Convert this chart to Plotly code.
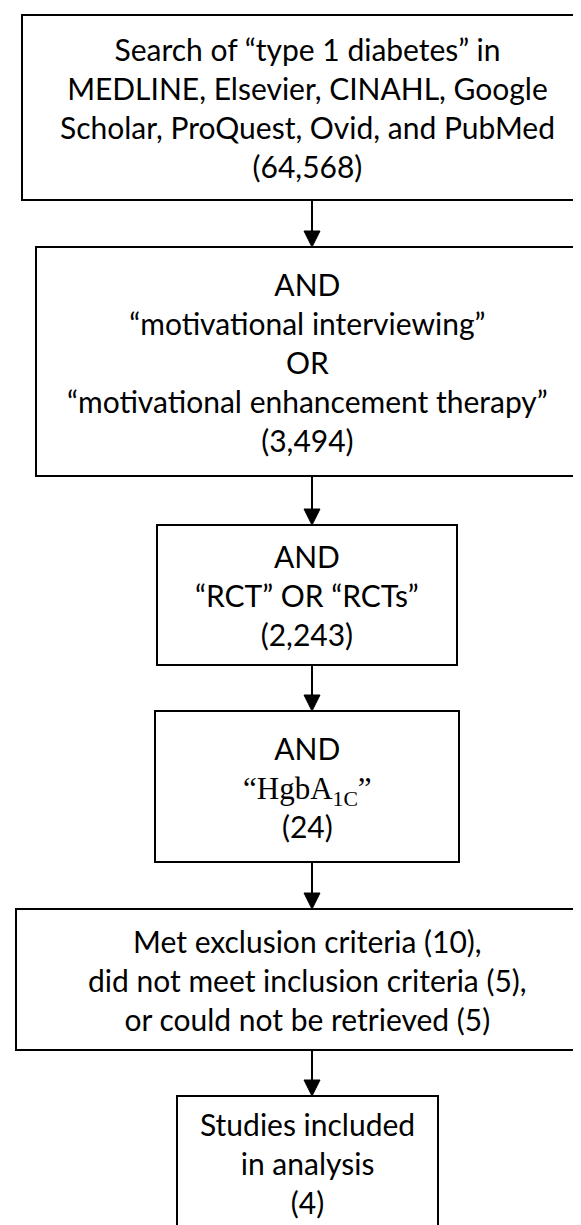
import plotly.graph_objects as go

# ---------------- data ----------------
search_terms = [
    "Search of “type 1 diabetes” in<br>MEDLINE, Elsevier, CINAHL, Google<br>Scholar, ProQuest, Ovid, and PubMed",
    "AND<br>“motivational interviewing”<br>OR<br>“motivational enhancement therapy”",
    "AND<br>“RCT” OR “RCTs”",
    "AND<br><span style=\"font-family:'Liberation Serif', 'Times New Roman', serif;font-size:31px\">“HgbA<sub>1C</sub>”</span>",
]
search_counts = [64568, 3494, 2243, 24]

exclusion_reasons = ["Met exclusion criteria", "did not meet inclusion criteria", "or could not be retrieved"]
exclusion_counts = [10, 5, 5]

final_label = "Studies included<br>in analysis"
final_count = 4

# ---------------- layout (pixel geometry) ----------------
W, H = 581, 1225
boxes = [  # x0, x1, y0, y1
    (14, 594, 7, 192),
    (28, 571, 239, 468),
    (149, 449, 517, 657),
    (147, 451, 703, 854),
    (8, 600, 901, 1042),
    (169, 430, 1088, 1222),
]
arrow_x = 304
text_cx = 299
font_main = dict(family="Lato, 'Open Sans', sans-serif", size=30, color="black")

texts = [f"{t}<br>({c:,})" for t, c in zip(search_terms, search_counts)]
texts.append(",<br>".join(f"{r} ({c})" for r, c in zip(exclusion_reasons, exclusion_counts)))
texts.append(f"{final_label}<br>({final_count})")

fig = go.Figure()
fig.add_trace(go.Scatter(x=[0, W], y=[0, H], mode="markers",
                         marker=dict(opacity=0), hoverinfo="skip", showlegend=False))

shapes = []
annotations = []
for (x0, x1, y0, y1), txt in zip(boxes, texts):
    shapes.append(dict(type="rect", xref="x", yref="y", x0=x0, x1=x1, y0=y0, y1=y1,
                       line=dict(color="black", width=2), fillcolor="white", layer="below"))
    annotations.append(dict(xref="x", yref="y", x=text_cx,
                            y=(y0 + y1) / 2, text=txt, showarrow=False,
                            xanchor="center", yanchor="middle", align="center", font=font_main))

head_w, head_h = 8, 16
for (a, b) in zip(boxes[:-1], boxes[1:]):
    ys, ye = a[3], b[2]
    shapes.append(dict(type="line", xref="x", yref="y", x0=arrow_x, x1=arrow_x,
                       y0=ys, y1=ye - head_h + 2, line=dict(color="black", width=2)))
    shapes.append(dict(type="path", xref="x", yref="y",
                       path=f"M {arrow_x - head_w},{ye - head_h} L {arrow_x + head_w},{ye - head_h} L {arrow_x},{ye} Z",
                       fillcolor="black", line=dict(color="black", width=1)))

fig.update_layout(
    width=W, height=H, margin=dict(l=0, r=0, t=0, b=0),
    paper_bgcolor="white", plot_bgcolor="white",
    xaxis=dict(range=[0, W], visible=False, fixedrange=True),
    yaxis=dict(range=[H, 0], visible=False, fixedrange=True),
    shapes=shapes, annotations=annotations, showlegend=False,
)

fig.write_html("out.html")
